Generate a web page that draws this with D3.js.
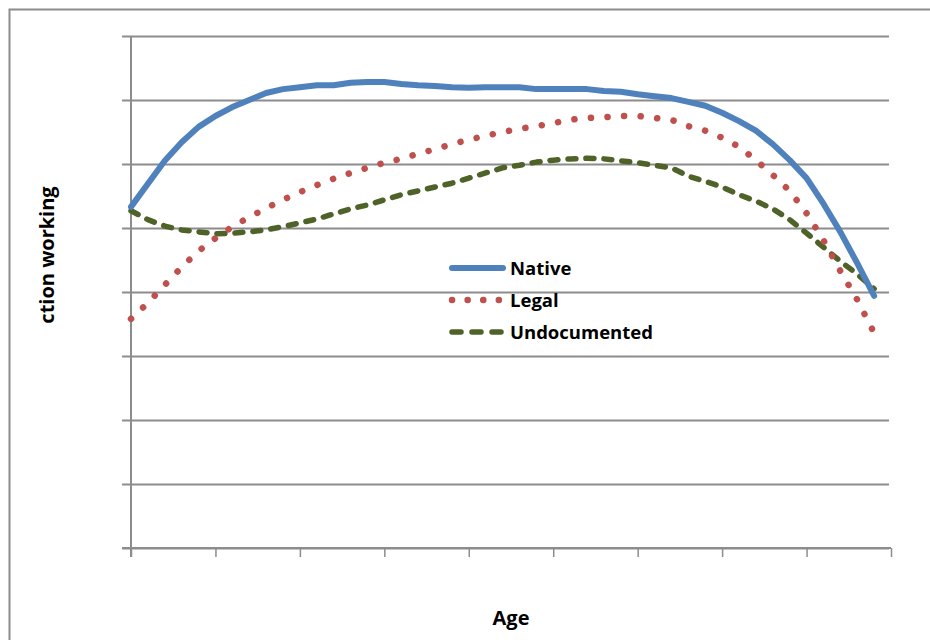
<!DOCTYPE html>
<html>
<head>
<meta charset="utf-8">
<script src="https://cdn.jsdelivr.net/npm/d3@7/dist/d3.min.js"></script>
<style>
  body { margin: 0; background: #fff; }
  text { font-family: "Open Sans", "DejaVu Sans", sans-serif; font-weight: bold; fill: #000; }
</style>
</head>
<body>
<div id="chart"></div>
<script>
var width = 930;
var height = 640;
var marginleft = 131;
var margintop = 36;
var plotright = 891;
var plotbottom = 548;

// ages (one point per year)
var ages = [18, 19, 20, 21, 22, 23, 24, 25, 26, 27, 28, 29, 30, 31, 32, 33, 34, 35, 36, 37,
            38, 39, 40, 41, 42, 43, 44, 45, 46, 47, 48, 49, 50, 51, 52, 53, 54, 55, 56, 57,
            58, 59, 60, 61, 62];

var native = [0.733, 0.769, 0.805, 0.834, 0.858, 0.875, 0.889, 0.900, 0.911, 0.917,
              0.920, 0.923, 0.923, 0.927, 0.928, 0.928, 0.925, 0.923, 0.922, 0.920,
              0.919, 0.920, 0.920, 0.920, 0.917, 0.917, 0.917, 0.917, 0.914, 0.913,
              0.909, 0.906, 0.903, 0.897, 0.891, 0.880, 0.867, 0.852, 0.831, 0.806,
              0.778, 0.738, 0.694, 0.645, 0.594];

var legal = [0.558, 0.583, 0.611, 0.639, 0.664, 0.684, 0.702, 0.717, 0.731, 0.744,
             0.756, 0.767, 0.777, 0.786, 0.794, 0.802, 0.808, 0.816, 0.823, 0.831,
             0.838, 0.844, 0.850, 0.855, 0.859, 0.864, 0.869, 0.872, 0.873, 0.875,
             0.875, 0.872, 0.869, 0.859, 0.852, 0.841, 0.827, 0.806, 0.783, 0.758,
             0.723, 0.681, 0.633, 0.588, 0.536];

var undocumented = [0.727, 0.713, 0.703, 0.697, 0.694, 0.691, 0.692, 0.694, 0.697, 0.702,
                    0.708, 0.714, 0.722, 0.730, 0.736, 0.744, 0.752, 0.758, 0.764, 0.770,
                    0.778, 0.786, 0.794, 0.798, 0.803, 0.806, 0.808, 0.809, 0.808, 0.805,
                    0.802, 0.798, 0.794, 0.781, 0.773, 0.764, 0.752, 0.742, 0.730, 0.713,
                    0.692, 0.670, 0.648, 0.628, 0.605];

var xTicks = [18, 23, 28, 33, 38, 43, 48, 53, 58, 63];
var yTicks = [0.2, 0.3, 0.4, 0.5, 0.6, 0.7, 0.8, 0.9, 1.0];

var seriesNames = ["Native", "Legal", "Undocumented"];
var seriesData = [native, legal, undocumented];
var colors = ["#4f81bd", "#c0504d", "#4f6228"];
var widths = [6, 6.5, 5.5];
var dashes = [null, "0.1 16.5", "8 10"];
var legendDashes = [null, "0.1 15.5", "9 11"];

let svg = d3.select("#chart")
    .append("svg")
    .attr("width", width)
    .attr("height", height);

// outer chart border (cut off on right and bottom)
svg.append("path")
    .attr("d", "M9.5,640 L9.5,9.5 L930,9.5")
    .attr("fill", "none")
    .attr("stroke", "#8c8c8c")
    .attr("stroke-width", 2);

let x = d3.scaleLinear()
    .domain([18, 63])
    .range([marginleft, plotright]);

let y = d3.scaleLinear()
    .domain([0.2, 1.0])
    .range([plotbottom, margintop]);

// horizontal gridlines + y ticks
svg.append("g")
    .attr("transform", "translate(" + marginleft + ",0)")
    .call(d3.axisLeft(y).tickValues(yTicks).tickFormat("")
        .tickSize(-(plotright - 2 - marginleft)).tickSizeOuter(0))
    .call(function(g){
      g.select(".domain").remove();
      g.selectAll(".tick line")
        .attr("x1", -9)
        .attr("stroke", "#8c8c8c")
        .attr("stroke-width", 2);
    });

// x axis
svg.append("g")
    .attr("transform", "translate(0," + plotbottom + ")")
    .call(d3.axisBottom(x).tickValues(xTicks).tickFormat("").tickSize(9).tickSizeOuter(0))
    .call(function(g){
      g.select(".domain").attr("stroke", "#8c8c8c").attr("stroke-width", 2)
        .attr("d", "M" + (marginleft - 9) + ",0H" + plotright);
      g.selectAll(".tick line").attr("stroke", "#8c8c8c").attr("stroke-width", 1.5);
    });

// y axis line
svg.append("line")
    .attr("x1", marginleft).attr("x2", marginleft)
    .attr("y1", margintop).attr("y2", plotbottom + 9)
    .attr("stroke", "#8c8c8c")
    .attr("stroke-width", 2);

var line = d3.line()
    .x(function(d, i){ return x(ages[i]); })
    .y(function(d){ return y(d); });

// draw green first, then red, then blue on top
[2, 1, 0].forEach(function(k){
  svg.append("path")
    .datum(seriesData[k])
    .attr("d", line)
    .attr("fill", "none")
    .attr("stroke", colors[k])
    .attr("stroke-width", widths[k])
    .attr("stroke-linecap", "round")
    .attr("stroke-linejoin", "round")
    .attr("stroke-dasharray", dashes[k]);
});

// legend
let legend = svg.append("g");
seriesNames.forEach(function(name, i){
  var ly = 268 + i * 32;
  legend.append("line")
    .attr("x1", 452).attr("x2", 503)
    .attr("y1", ly).attr("y2", ly)
    .attr("stroke", colors[i])
    .attr("stroke-width", widths[i])
    .attr("stroke-linecap", "round")
    .attr("stroke-dasharray", legendDashes[i]);
  legend.append("text")
    .attr("x", 510)
    .attr("y", ly + 7)
    .style("font-size", "18.5px")
    .text(name);
});

// axis titles
svg.append("text")
    .attr("x", 511)
    .attr("y", 625)
    .attr("text-anchor", "middle")
    .style("font-size", "20px")
    .text("Age");

svg.append("text")
    .attr("transform", "translate(54,255) rotate(-90)")
    .attr("text-anchor", "middle")
    .style("font-size", "20px")
    .text("ction working");
</script>
</body>
</html>
